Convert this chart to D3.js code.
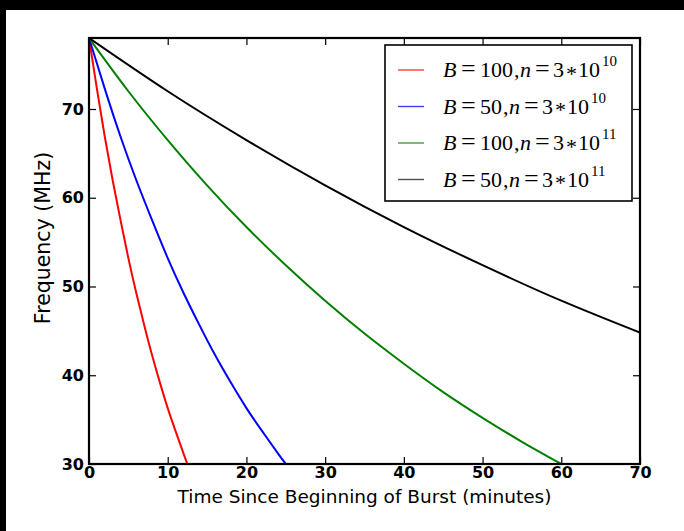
<!DOCTYPE html>
<html><head><meta charset="utf-8">
<script src="https://cdn.jsdelivr.net/npm/d3@7"></script>
<style>body{margin:0;background:#fff}svg{display:block}</style>
</head><body>
<svg id="c" width="684" height="531"></svg>
<script>
// ---- data ----
const tRed   = [0, 1, 2, 3, 4, 5, 6, 7, 8, 9, 10, 11, 12, 12.5];
const fRed   = [78, 72.3, 66.9, 62.0, 57.5, 53.2, 49.3, 45.7, 42.3, 39.2, 36.3, 33.7, 31.2, 30];
const tBlue  = [0, 2, 4, 6, 8, 10, 12, 14, 16, 18, 20, 22, 24, 25];
const fBlue  = [78, 72.3, 66.9, 62.0, 57.5, 53.2, 49.3, 45.7, 42.3, 39.2, 36.3, 33.7, 31.2, 30];
const tGreen = [0, 5, 10, 15, 20, 25, 30, 35, 40, 45, 50, 55, 60];
const fGreen = [78, 72.0, 66.5, 61.4, 56.7, 52.4, 48.4, 44.7, 41.3, 38.1, 35.2, 32.5, 30];
const tBlack = [0, 10, 20, 30, 40, 50, 60, 70];
const fBlack = [78, 72.0, 66.5, 61.4, 56.7, 52.4, 48.4, 44.8];
const seriesB = ["100", "50", "100", "50"];
const seriesExp = ["10", "10", "11", "11"];
const seriesColors = ["#ff0000", "#0000ff", "#008000", "#000000"];
const legendColors = ["#ff4040", "#4040ff", "#40a040", "#505050"];
const xTicks = [0, 10, 20, 30, 40, 50, 60, 70];
const yTicks = [30, 40, 50, 60, 70];
const xLabel = "Time Since Beginning of Burst (minutes)";
const yLabel = "Frequency (MHz)";

const series = [
  {t: tRed, f: fRed}, {t: tBlue, f: fBlue}, {t: tGreen, f: fGreen}, {t: tBlack, f: fBlack}
].map((s, i) => ({pts: s.t.map((t, j) => [t, s.f[j]]), color: seriesColors[i], lc: legendColors[i], B: seriesB[i], e: seriesExp[i]}));

const svg = d3.select("#c");
// black border strips of the source image
svg.append("rect").attr("x", 0).attr("y", 0).attr("width", 684).attr("height", 531).attr("fill", "#000");
svg.append("rect").attr("x", 6).attr("y", 10).attr("width", 678).attr("height", 521).attr("fill", "#fff");

const L = 89, R = 640, T = 38, B = 464;
const x = d3.scaleLinear().domain([0, 70]).range([L, R]);
const yMax = d3.max(series, s => d3.max(s.pts, p => p[1]));
const y = d3.scaleLinear().domain([30, yMax]).range([B, T]);

const line = d3.line().x(d => x(d[0])).y(d => y(d[1])).curve(d3.curveNatural);
const g = svg.append("g");
g.append("defs").append("clipPath").attr("id", "clip").append("rect")
  .attr("x", L).attr("y", T).attr("width", R - L).attr("height", B - T);
series.forEach(s => {
  g.append("path").attr("d", line(s.pts)).attr("fill", "none")
    .attr("stroke", s.color).attr("stroke-width", 2).attr("clip-path", "url(#clip)");
});

const tickFont = "'DejaVu Sans', sans-serif";
const axB = d3.axisBottom(x).tickValues(xTicks).tickSizeInner(-7).tickSizeOuter(0).tickPadding(3);
const axT = d3.axisTop(x).tickValues(xTicks).tickSizeInner(-7).tickSizeOuter(0).tickFormat("");
const axL = d3.axisLeft(y).tickValues(yTicks).tickSizeInner(-7).tickSizeOuter(0).tickPadding(5);
const axR = d3.axisRight(y).tickValues(yTicks).tickSizeInner(-7).tickSizeOuter(0).tickFormat("");
[[axB, `translate(0,${B})`], [axT, `translate(0,${T})`], [axL, `translate(${L},0)`], [axR, `translate(${R},0)`]]
  .forEach(([a, tr]) => {
    const gg = svg.append("g").attr("transform", tr).call(a);
    gg.select(".domain").remove();
    gg.selectAll("line").attr("stroke", "#000").attr("stroke-width", 1.2);
    gg.selectAll("text").attr("font-family", tickFont).attr("font-size", 16)
      .attr("font-weight", "bold").attr("fill", "#000");
  });
svg.append("rect").attr("x", L).attr("y", T).attr("width", R - L).attr("height", B - T)
  .attr("fill", "none").attr("stroke", "#000").attr("stroke-width", 2.2);

svg.append("text").attr("x", (L + R) / 2).attr("y", 503).attr("text-anchor", "middle")
  .attr("font-family", tickFont).attr("font-size", 18.5).text(xLabel);
svg.append("text").attr("transform", "translate(50,238) rotate(-90)").attr("text-anchor", "middle")
  .attr("font-family", tickFont).attr("font-size", 20.5).text(yLabel);

// legend
const lg = svg.append("g");
lg.append("rect").attr("x", 385).attr("y", 45).attr("width", 247).attr("height", 156)
  .attr("fill", "#fff").attr("stroke", "#000").attr("stroke-width", 1.6);
const serif = "'Liberation Serif', serif";
series.forEach((s, i) => {
  const ly = 70 + i * 36.5;
  lg.append("line").attr("x1", 398).attr("x2", 424).attr("y1", ly).attr("y2", ly)
    .attr("stroke", s.lc).attr("stroke-width", 1.4);
  const bx = 443, by = ly + 7;
  const sh = s.B.length === 3 ? 0 : -11;
  const part = (dx, txt, opts = {}) => {
    const t = lg.append("text").attr("x", bx + dx).attr("y", by - (opts.up || 0))
      .attr("font-family", serif).attr("font-size", opts.size || 22).attr("fill", "#000").text(txt);
    if (opts.it) t.attr("font-style", "italic");
    return t;
  };
  part(0, "B", {it: true});
  part(18, "=", {size: 26});
  part(37, s.B);
  part(71 + sh, ",");
  part(77 + sh, "n", {it: true});
  part(92 + sh, "=", {size: 26});
  part(110 + sh, "3");
  part(123 + sh, "*", {up: -3.5});
  part(135 + sh, "10");
  part(159 + sh, s.e, {size: 15, up: 11});
});
</script>
</body></html>
